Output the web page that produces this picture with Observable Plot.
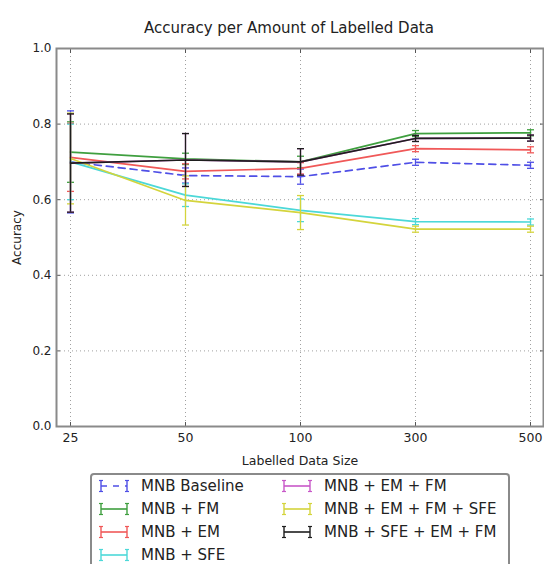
<!DOCTYPE html>
<html><head><meta charset="utf-8">
<script src="https://cdn.jsdelivr.net/npm/d3@7"></script>
<script src="https://cdn.jsdelivr.net/npm/@observablehq/plot@0.6"></script>
<style>
body{margin:0;background:#fff;font-family:"DejaVu Sans",sans-serif;}
#wrap{position:relative;width:544px;height:564px;overflow:hidden;background:#fff;}
#legend{position:absolute;left:90px;top:473px;width:420px;height:110px;border:2px solid #8a8a8a;border-radius:4px;background:#fff;box-sizing:border-box;}
.item{position:absolute;font-size:15px;color:#222;display:flex;align-items:center;height:20px;white-space:nowrap;}
.item svg{margin-right:12px;}
</style></head><body><div id="wrap"><div id="legend"></div></div>
<script>
const title = "Accuracy per Amount of Labelled Data";
const sizes = ["25","50","100","300","500"];
const yTicks = [0, 0.2, 0.4, 0.6, 0.8, 1.0];
const seriesNames = ["MNB Baseline","MNB + FM","MNB + EM","MNB + SFE","MNB + EM + FM","MNB + EM + FM + SFE","MNB + SFE + EM + FM"];
const seriesColors = ["#4f4fe6","#3f9f3f","#f05858","#4cd8d8","#c858c8","#d4d43c","#1e1e1e"];

const baseline   = [0.700, 0.664, 0.661, 0.699, 0.691];
const fm         = [0.726, 0.708, 0.700, 0.775, 0.777];
const em         = [0.712, 0.675, 0.683, 0.735, 0.732];
const sfe        = [0.700, 0.612, 0.572, 0.542, 0.541];
const emFm       = [0.697, 0.705, 0.700, 0.762, 0.763];
const emFmSfe    = [0.709, 0.598, 0.566, 0.522, 0.522];
const sfeEmFm    = [0.697, 0.705, 0.700, 0.762, 0.763];

const baselineErr = [0.135, 0.020, 0.020, 0.008, 0.008];
const fmErr       = [0.080, 0.015, 0.015, 0.008, 0.008];
const emErr       = [0.090, 0.020, 0.015, 0.008, 0.008];
const sfeErr      = [0.100, 0.030, 0.030, 0.008, 0.008];
const emFmErr     = [0.130, 0.070, 0.035, 0.008, 0.008];
const emFmSfeErr  = [0.120, 0.065, 0.045, 0.008, 0.008];
const sfeEmFmErr  = [0.130, 0.070, 0.035, 0.008, 0.008];

const allValues = [baseline, fm, em, sfe, emFm, emFmSfe, sfeEmFm];
const allErrors = [baselineErr, fmErr, emErr, sfeErr, emFmErr, emFmSfeErr, sfeEmFmErr];

const seriesData = seriesNames.map((name, s) =>
  sizes.map((size, i) => ({series: name, size, v: allValues[s][i], e: allErrors[s][i]}))
);

// horizontal cap symbol for error bars
const capSymbol = {
  draw(context, size) {
    const w = Math.sqrt(size / Math.PI);
    context.moveTo(-w, 0);
    context.lineTo(w, 0);
  }
};

const dataMarks = seriesData.flatMap((rows, s) => {
  const c = seriesColors[s];
  const dash = s === 0 ? "7,5" : null;
  return [
    Plot.line(rows, {x: "size", y: "v", stroke: c, strokeWidth: 1.7, strokeDasharray: dash}),
    Plot.ruleX(rows, {x: "size", y1: d => d.v - d.e, y2: d => d.v + d.e, stroke: c, strokeWidth: 1.3}),
    Plot.dot(rows, {x: "size", y: d => d.v + d.e, symbol: capSymbol, r: 3.5, stroke: c, strokeWidth: 1.3, fill: "none"}),
    Plot.dot(rows, {x: "size", y: d => d.v - d.e, symbol: capSymbol, r: 3.5, stroke: c, strokeWidth: 1.3, fill: "none"})
  ];
});

const gridStyle = {stroke: "#a0a0a0", strokeOpacity: 1, strokeDasharray: "1,3"};
const tickStyle = {stroke: "#555", tickSize: 4, tickFormat: () => "", label: null};

const chart = Plot.plot({
  width: 544, height: 470,
  marginLeft: 56, marginRight: 1, marginTop: 48, marginBottom: 44,
  style: {fontFamily: "DejaVu Sans", fontSize: "12px", color: "#222", background: "#fff"},
  x: {type: "point", domain: sizes, padding: 0.1},
  y: {domain: [0, 1]},
  marks: [
    Plot.gridX(sizes, gridStyle),
    Plot.gridY(yTicks.slice(1, -1), gridStyle),
    ...dataMarks,
    Plot.axisX(sizes, {tickSize: 0, tickPadding: 7, label: "Labelled Data Size", labelAnchor: "center", labelArrow: "none", labelOffset: 38, fontSize: 12.5}),
    Plot.axisY(yTicks, {tickSize: 0, tickPadding: 5, tickFormat: d3.format(".1f"), label: "Accuracy", labelAnchor: "center", labelArrow: "none", labelOffset: 44}),
    Plot.axisX(sizes, {...tickStyle, anchor: "bottom", dy: -4}),
    Plot.axisX(sizes, {...tickStyle, anchor: "top", dy: 4}),
    Plot.axisY(yTicks, {...tickStyle, anchor: "left", dx: 4}),
    Plot.axisY(yTicks, {...tickStyle, anchor: "right", dx: -4}),
    Plot.frame({stroke: "#8a8a8a", strokeWidth: 2}),
    Plot.text([title], {frameAnchor: "top", dy: -26, dx: -11, fontSize: 15, fill: "#222"})
  ]
});
const wrap = document.getElementById("wrap");
wrap.insertBefore(chart, wrap.firstChild);

// legend
const legend = document.getElementById("legend");
const colX = [7, 190];
seriesNames.forEach((name, i) => {
  const col = i < 4 ? 0 : 1;
  const row = i < 4 ? i : i - 4;
  const item = document.createElement("div");
  item.className = "item";
  item.style.left = colX[col] + "px";
  item.style.top = (row * 23 + 1) + "px";
  const c = seriesColors[i];
  const dash = i === 0 ? 'stroke-dasharray="6,6"' : "";
  item.innerHTML = `<svg width="30" height="14" viewBox="-1 0 30 14"><line x1="1" y1="7" x2="27" y2="7" stroke="${c}" stroke-width="1.6" ${dash}/><line x1="1" y1="1.5" x2="1" y2="12.5" stroke="${c}" stroke-width="1.4"/><line x1="27" y1="1.5" x2="27" y2="12.5" stroke="${c}" stroke-width="1.4"/><line x1="-1" y1="1.5" x2="3" y2="1.5" stroke="${c}" stroke-width="1.2"/><line x1="-1" y1="12.5" x2="3" y2="12.5" stroke="${c}" stroke-width="1.2"/><line x1="25" y1="1.5" x2="29" y2="1.5" stroke="${c}" stroke-width="1.2"/><line x1="25" y1="12.5" x2="29" y2="12.5" stroke="${c}" stroke-width="1.2"/></svg><span>${name}</span>`;
  legend.appendChild(item);
});
</script>
</body></html>
